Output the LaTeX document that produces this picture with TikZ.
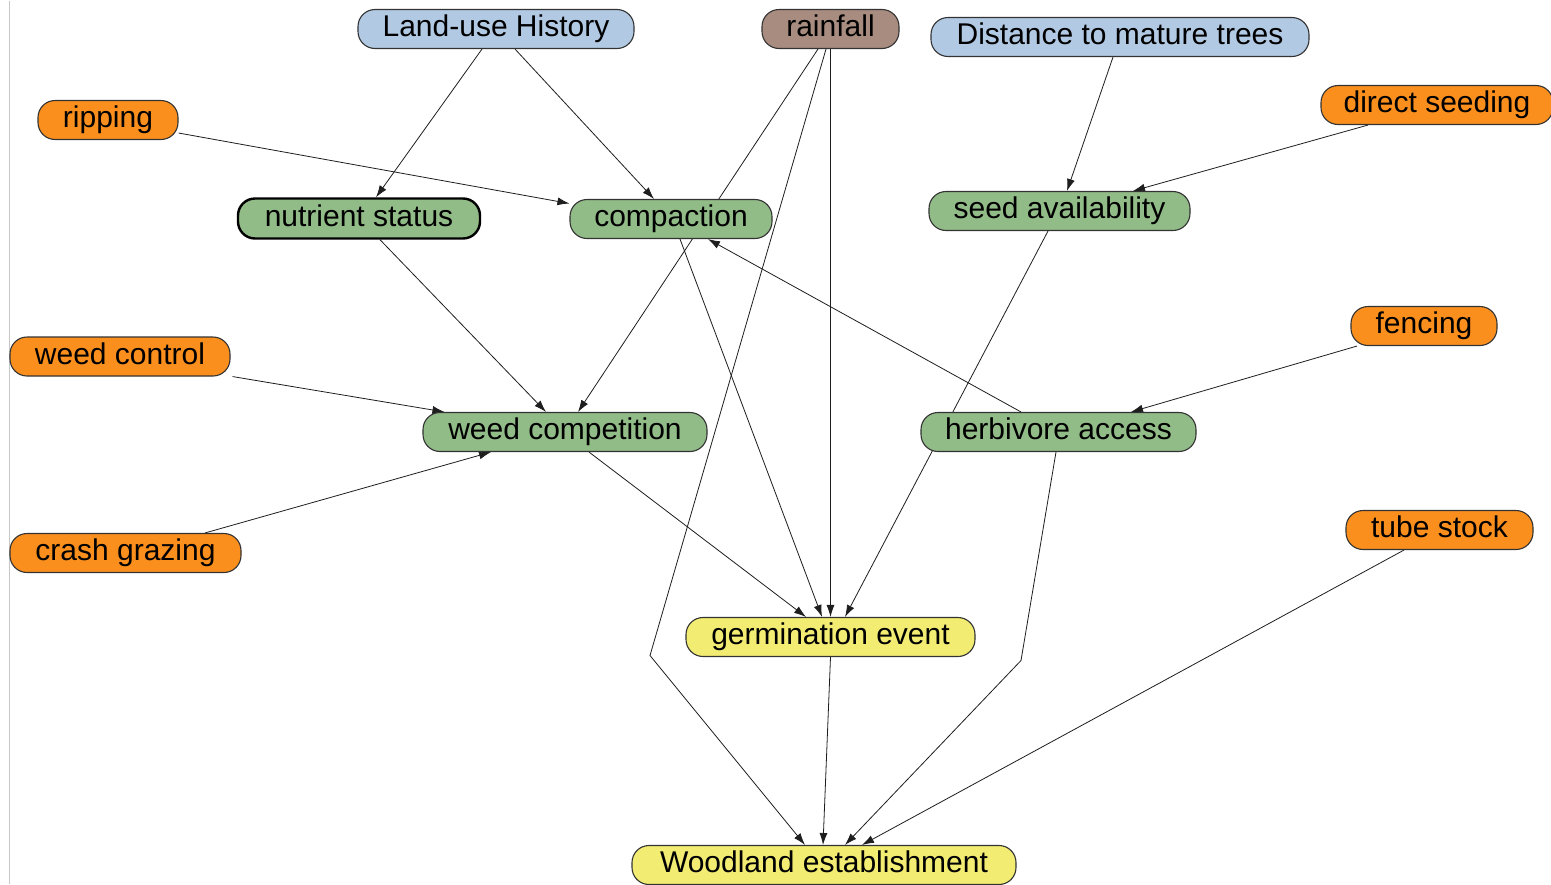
\documentclass[tikz,border=0pt]{standalone}
\usepackage{fontspec}
\setmainfont{Liberation Sans}
\usetikzlibrary{arrows.meta}
\pgfdeclarelayer{bg}
\pgfsetlayers{bg,main}

\definecolor{cblue}{RGB}{178,201,228}
\definecolor{cbrown}{RGB}{168,140,128}
\definecolor{corange}{RGB}{250,143,30}
\definecolor{cgreen}{RGB}{145,187,135}
\definecolor{cyellow}{RGB}{242,236,115}
\definecolor{cline}{RGB}{30,30,30}

\tikzset{
  box/.style={draw=black!80, line width=1.1pt, rounded corners=17pt,
    minimum height=39pt, inner sep=0pt, text=black,
    text height=21pt, text depth=6pt,
    font=\fontsize{30}{36}\selectfont},
  hist/.style={box, fill=cblue},
  rainbox/.style={box, fill=cbrown},
  action/.style={box, fill=corange},
  factor/.style={box, fill=cgreen},
  outcome/.style={box, fill=cyellow},
  edge/.style={draw=cline, line width=0.8pt, -{Latex[length=12pt,width=8pt]}},
}

\begin{document}
\begin{tikzpicture}[x=1pt, y=-1pt]
  \begin{pgfonlayer}{bg}
    \fill[white] (0,0) rectangle (1551,883);
    \draw[black!22, line width=1pt] (9,0) -- (9,883);
  \end{pgfonlayer}
  \useasboundingbox (0,0) rectangle (1551,883);

  % top row: history and environment
  \node[hist, minimum width=276pt]    (lu)   at (496,28.5)   {Land-use History};
  \node[rainbox, minimum width=137pt] (rain) at (830.5,28.5) {rainfall};
  \node[hist, minimum width=378pt]    (dist) at (1120,36.5)  {Distance to mature trees};

  % management actions
  \node[action, minimum width=140pt] (rip)   at (108,119.5)  {ripping};
  \node[action, minimum width=232pt] (dseed) at (1437,104.5) {direct seeding};
  \node[action, minimum width=220pt] (wctl)  at (120,356)    {weed control};
  \node[action, minimum width=146pt] (fen)   at (1424,325.5) {fencing};
  \node[action, minimum width=231pt] (crash) at (125.5,552.5){crash grazing};
  \node[action, minimum width=187pt] (tube)  at (1439.5,529.5){tube stock};

  % site factors
  \node[factor, minimum width=242pt, minimum height=40pt, draw=black, line width=2.4pt]
                                      (nut)   at (359,218)    {nutrient status};
  \node[factor, minimum width=202pt] (comp)  at (671,218.5)  {compaction};
  \node[factor, minimum width=261pt] (seed)  at (1059.5,210.5){seed availability};
  \node[factor, minimum width=284pt] (wcomp) at (565,431.5)  {weed competition};
  \node[factor, minimum width=275pt] (herb)  at (1058.5,431.5){herbivore access};

  % outcomes
  \node[outcome, minimum width=289pt] (germ) at (830.5,636.5) {germination event};
  \node[outcome, minimum width=384pt] (wood) at (824,864.5)   {Woodland establishment};

  % bend points of the two long links into establishment
  \coordinate (bendR) at (650,655);
  \coordinate (bendH) at (1021,660);

  \begin{pgfonlayer}{bg}
    \draw[edge] ([xshift=-14pt]lu.south) -- ([xshift=17pt]nut.north);
    \draw[edge] ([xshift=19pt]lu.south) -- ([xshift=-17pt]comp.north);
    \draw[edge] ([yshift=-13pt]rip.east) -- ([yshift=15.5pt]comp.west);
    \draw[edge] ([xshift=-12.5pt]rain.south) -- ([xshift=13pt]wcomp.north);
    \draw[edge] ([xshift=-4.5pt]rain.south) -- (bendR) -- ([xshift=-19pt]wood.north);
    \draw[edge] (rain.south) -- (germ.north);
    \draw[edge] ([xshift=-7pt]dist.south) -- ([xshift=7.5pt]seed.north);
    \draw[edge] ([xshift=-69pt]dseed.south) -- ([xshift=73.5pt]seed.north);
    \draw[edge] ([xshift=21pt]nut.south) -- ([xshift=-19pt]wcomp.north);
    \draw[edge] ([xshift=9pt]comp.south) -- ([xshift=-8.5pt]germ.north);
    \draw[edge] ([xshift=-37.5pt]herb.north) -- ([xshift=37pt]comp.south);
    \draw[edge] ([xshift=-11.5pt]seed.south) -- ([xshift=14.5pt]germ.north);
    \draw[edge] ([xshift=2pt]wctl.south east) -- ([xshift=22pt]wcomp.north west);
    \draw[edge] ([xshift=79.5pt]crash.north) -- ([xshift=-74pt]wcomp.south);
    \draw[edge] ([xshift=-67pt]fen.south) -- ([xshift=72.5pt]herb.north);
    \draw[edge] ([xshift=24pt]wcomp.south) -- ([xshift=-24.5pt]germ.north);
    \draw[edge] ([xshift=-2.5pt]herb.south) -- (bendH) -- ([xshift=21pt]wood.north);
    \draw[edge] (germ.south) -- ([xshift=-1pt]wood.north);
    \draw[edge] ([xshift=-35.5pt]tube.south) -- ([xshift=38pt]wood.north);
  \end{pgfonlayer}
\end{tikzpicture}
\end{document}
